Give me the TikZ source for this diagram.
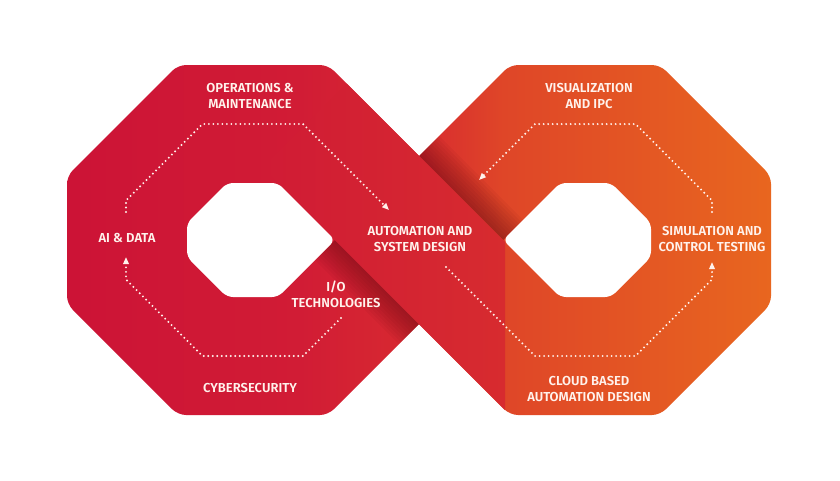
\documentclass[tikz,border=0pt]{standalone}
\usepackage{fontspec}
\setmainfont{Fira Sans}[BoldFont={Fira Sans SemiBold}]
\usetikzlibrary{arrows.meta}
\definecolor{ca}{HTML}{CC1336}
\definecolor{cb}{HTML}{D11C35}
\definecolor{cc}{HTML}{D82A30}
\definecolor{cd}{HTML}{DF4628}
\definecolor{ce}{HTML}{E8661F}
\definecolor{sa}{HTML}{D01B35}
\definecolor{sb}{HTML}{D72B2F}
\definecolor{shadowc}{HTML}{5A0812}
\definecolor{labelc}{HTML}{FFF2EC}
\pgfdeclarehorizontalshading{ringgrad}{100bp}{color(0bp)=(ca); color(25bp)=(ca); color(41.5bp)=(cb); color(50bp)=(cc); color(56bp)=(cd); color(75bp)=(ce); color(100bp)=(ce)}
\pgfdeclarehorizontalshading{strandgrad}{100bp}{color(0bp)=(sa); color(25bp)=(sa); color(75bp)=(sb); color(100bp)=(sb)}
\begin{document}
\begin{tikzpicture}[x=1pt,y=-1pt,
  lbl/.style={text=labelc, font=\bfseries\fontsize{13}{16}\selectfont, align=center, inner sep=0pt},
  flow/.style={draw=labelc, line width=2.1pt, dash pattern=on 0pt off 4.5pt, line cap=round},
  flowtip/.style={flow, -{Triangle[length=7pt,width=5.5pt]}},
  holefill/.style={fill=white, rounded corners=6pt}]
\fill[white] (0,0) rectangle (840,480);
\useasboundingbox (0,0) rectangle (840,480);
% union of the two octagons
\shade[shading=ringgrad, rounded corners=8pt]
  (67,176) -- (178,65) -- (328,65) -- (439,176) -- (439,304) -- (328,415) -- (178,415) -- (67,304) -- cycle
  (399,176) -- (510,65) -- (660,65) -- (771,176) -- (771,304) -- (660,415) -- (510,415) -- (399,304) -- cycle;
% shadows on the under strand
\foreach \k in {1,...,10}{
  \pgfmathsetmacro\ua{263+4*\k}
  \pgfmathsetmacro\ub{95-4*\k}
  \fill[shadowc, opacity=0.05] (419,156) -- (503,240) -- ({(\ua+743)/2},{(743-\ua)/2}) -- ({(\ua+575)/2},{(575-\ua)/2}) -- cycle;
  \fill[shadowc, opacity=0.05] (335,240) -- (419,324) -- ({(\ub+743)/2},{(743-\ub)/2}) -- ({(\ub+575)/2},{(575-\ub)/2}) -- cycle;
}
% over strand
\shade[shading=strandgrad] (262.5,167.5) -- (346.5,83.5) -- (505,242) -- (505,410) -- cycle;
% holes
\path[holefill] (187,223) -- (227,183) -- (278,183) -- (335,240) -- (278,297) -- (227,297) -- (187,257) -- cycle;
\path[holefill] (651,223) -- (611,183) -- (560,183) -- (503,240) -- (560,297) -- (611,297) -- (651,257) -- cycle;
% labels
\node[lbl] (ops) at (250,96) {OPERATIONS \&\\MAINTENANCE};
\node[lbl] (ai) at (127,238) {AI \& DATA};
\node[lbl] (cyber) at (250,388) {CYBERSECURITY};
\node[lbl] (io) at (336,294) {I/O\\TECHNOLOGIES};
\node[lbl] (asd) at (420,238.5) {AUTOMATION AND\\SYSTEM DESIGN};
\node[lbl] (vis) at (589,96) {VISUALIZATION\\AND IPC};
\node[lbl] (sim) at (712,238.5) {SIMULATION AND\\CONTROL TESTING};
\node[lbl] (cloud) at (589,388.5) {CLOUD BASED\\AUTOMATION DESIGN};
% flow coordinates
\coordinate (lt0) at (126,212); \coordinate (lt1) at (126,200.5); \coordinate (lt2) at (202.5,124); \coordinate (lt3) at (303,124); \coordinate (lt4) at (389,210);
\coordinate (lb0) at (341,318); \coordinate (lb1) at (303,356); \coordinate (lb2) at (202.5,356); \coordinate (lb3) at (126,279.5); \coordinate (lb4) at (126,257);
\coordinate (rt0) at (712,212); \coordinate (rt1) at (712,200.5); \coordinate (rt2) at (635.5,124); \coordinate (rt3) at (535,124); \coordinate (rt4) at (479,180);
\coordinate (rb0) at (446,267); \coordinate (rb1) at (535,356); \coordinate (rb2) at (635.5,356); \coordinate (rb3) at (712,279.5); \coordinate (rb4) at (712,262);
\draw[flowtip] (lt0) -- (lt1) -- (lt2) -- (lt3) -- (lt4);
\draw[flowtip] (lb0) -- (lb1) -- (lb2) -- (lb3) -- (lb4);
\draw[flowtip] (rt0) -- (rt1) -- (rt2) -- (rt3) -- (rt4);
\draw[flowtip] (rb0) -- (rb1) -- (rb2) -- (rb3) -- (rb4);
\end{tikzpicture}
\end{document}
